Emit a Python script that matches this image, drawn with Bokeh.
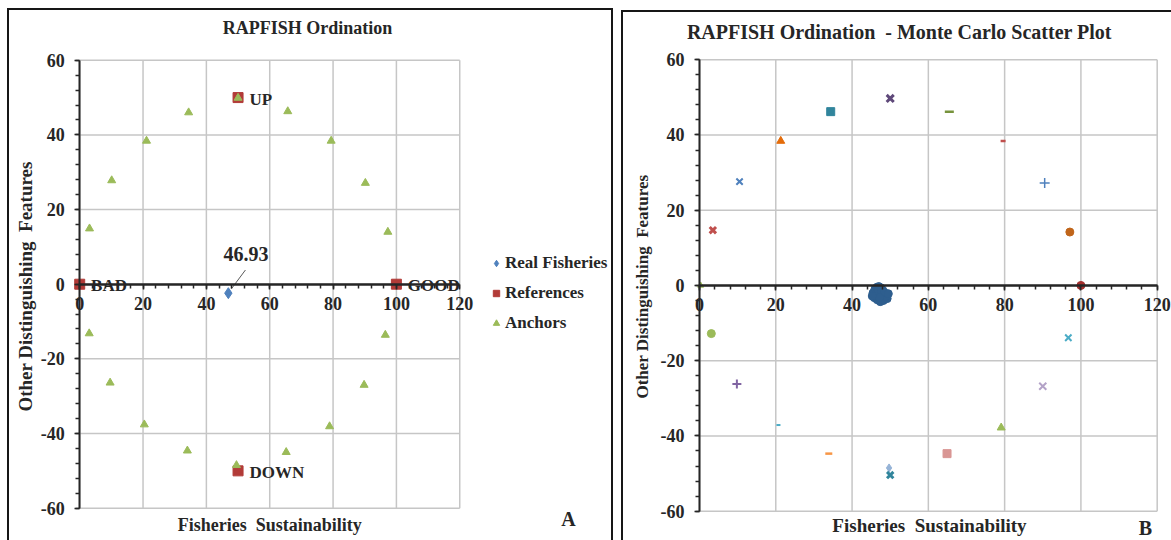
import math
from bokeh.plotting import figure
from bokeh.layouts import row
from bokeh.models import Legend, LegendItem, SingleIntervalTicker, ColumnDataSource
from bokeh.embed import file_html
from bokeh.resources import INLINE
from bokeh.core.properties import value

FONT = "Liberation Serif"
DARK = "#262626"
GRID = "#C6C6C6"
NB = "\u00a0"

# ---------------- data: panel A ----------------
real_x = [46.93]
real_y = [-2.4]
real_label = ["46.93"]

ref_x = [0, 100, 50, 50]
ref_y = [0, 0, 50, -50]
ref_names = ["BAD", "GOOD", "UP", "DOWN"]

anchor_x = [50.0, 34.4, 65.7, 21.1, 79.4, 10.1, 90.2, 3.1, 97.3,
            3.0, 96.5, 9.6, 89.8, 20.4, 78.9, 34.0, 65.2, 49.5]
anchor_y = [49.9, 46.0, 46.3, 38.4, 38.4, 27.8, 27.1, 14.9, 14.0,
            -13.2, -13.6, -26.4, -27.0, -37.6, -38.1, -44.6, -45.0, -48.5]

x_ticks = [0, 20, 40, 60, 80, 100, 120]
y_ticks = [-60, -40, -20, 0, 20, 40, 60]

# ---------------- data: panel B ----------------
mc_x = [50.0, 34.4, 65.5, 21.3, 79.6, 10.5, 90.5, 3.5, 97.1, 0.3, 100.0,
        3.1, 96.7, 9.8, 90.0, 20.7, 79.1, 33.9, 64.9, 49.7, 50.0]
mc_y = [49.7, 46.2, 46.2, 38.4, 38.4, 27.6, 27.2, 14.7, 14.2, 0.0, 0.0,
        -12.8, -13.9, -26.2, -26.8, -37.1, -37.8, -44.7, -44.7, -48.5, -50.4]

cloud_x = [45.5, 46.0, 46.5, 47.0, 47.5, 48.0, 48.5, 49.0, 45.8, 46.6, 47.4,
           48.2, 49.2, 46.2, 47.0, 47.8, 48.6, 46.8, 47.6, 48.4, 47.2, 45.3, 49.5]
cloud_y = [-2.0, -1.0, -0.5, -0.3, -0.6, -1.2, -2.0, -2.8, -3.2, -3.8, -4.3,
           -4.0, -3.5, -2.5, -2.0, -2.6, -3.0, -1.5, -1.2, -1.8, -3.2, -2.8, -2.2]

# styles of the Monte Carlo series (one per anchor / reference series)
mc_markers = ["x", "square", "dash", "triangle", "dash", "x", "cross", "x", "circle",
              "triangle", "circle", "circle", "x", "cross", "x", "dash", "triangle",
              "dash", "square", "diamond", "x"]
mc_colors = ["#5F497A", "#31859C", "#77933C", "#E46C0A", "#C0504D", "#4F81BD", "#4F81BD",
             "#C0504D", "#C0651A", "#9BBB59", "#A5302E", "#9BBB59", "#4BACC6", "#8064A2",
             "#B3A2C7", "#4BACC6", "#9BBB59", "#F79646", "#D99694", "#95B3D7", "#31859C"]
mc_sizes = [10, 8, 9, 8, 5, 9, 10, 9, 8, 6, 8, 8, 9, 9, 10, 4, 8, 7, 8, 8, 9]
mc_widths = [3, 1, 2.5, 1, 2.5, 2, 1.5, 3, 1, 1, 1, 1, 2, 2, 2, 2, 1, 2.5, 1, 1, 3]


def base_fig(width, height, xr, yr, shadow):
    p = figure(width=width, height=height, x_range=xr, y_range=yr,
               output_backend="svg", toolbar_location=None)
    p.min_border = 0
    p.min_border_left = 0
    p.min_border_right = 0
    p.min_border_top = 0
    p.min_border_bottom = 0
    p.background_fill_alpha = 0
    p.border_fill_alpha = 0
    p.outline_line_color = None
    p.xgrid.visible = False
    p.ygrid.visible = False
    # grid drawn over the 0..120 x -60..60 box only
    p.segment(x0=x_ticks, y0=[y_ticks[0]] * len(x_ticks), x1=x_ticks,
              y1=[y_ticks[-1]] * len(x_ticks), line_color=GRID, line_width=1.5)
    p.segment(x0=[x_ticks[0]] * len(y_ticks), y0=y_ticks, x1=[x_ticks[-1]] * len(y_ticks),
              y1=y_ticks, line_color=GRID, line_width=1.5)
    p.xaxis.ticker = SingleIntervalTicker(interval=20, num_minor_ticks=5)
    p.yaxis.ticker = SingleIntervalTicker(interval=20, num_minor_ticks=5)
    p.xaxis.fixed_location = 0
    p.yaxis.fixed_location = 0
    p.xaxis.bounds = (x_ticks[0], x_ticks[-1])
    p.yaxis.bounds = (y_ticks[0], y_ticks[-1])
    p.xaxis.major_label_overrides = {t: str(t) for t in x_ticks}
    p.yaxis.major_label_overrides = {t: str(t) for t in y_ticks}
    for ax in (p.xaxis, p.yaxis):
        ax.axis_line_color = DARK
        ax.major_tick_line_color = DARK
        ax.minor_tick_line_color = DARK
        ax.major_tick_line_width = 1.5
        ax.minor_tick_line_width = 1.5
        ax.major_tick_in = 0
        ax.minor_tick_in = 0
        ax.major_tick_out = 5
        ax.minor_tick_out = 4
        ax.major_label_text_font = FONT
        ax.major_label_text_font_size = "18px"
        ax.major_label_text_font_style = "bold"
        ax.major_label_text_color = DARK
    p.xaxis.axis_line_width = 2.5
    p.yaxis.axis_line_width = 2
    p.xaxis.major_label_standoff = 8
    p.yaxis.major_label_standoff = 10
    p.styles = {"box-shadow": shadow}
    return p


def add_text(p, x, y, text, size, align="center", angle=0.0):
    p.text(x=[x], y=[y], text=[text], angle=angle, text_align=align,
           text_baseline="middle", text_font=value(FONT), text_font_size=size,
           text_font_style="bold", text_color=DARK)


# ---------------- panel A ----------------
pA = base_fig(606, 532, (-22.80, 168.55), (-68.66, 73.86),
              "inset 2px 2px 0 #161616, inset -2px 0 0 #161616")

r_real = pA.scatter(real_x, real_y, marker="diamond", size=11, color="#4F81BD")
r_ref = pA.scatter(ref_x, ref_y, marker="square", size=10, color="#B23B38")
r_anc = pA.scatter(anchor_x, anchor_y, marker="triangle", size=8, color="#9BBB59")

pA.text(x=[rx + 3.6 for rx in ref_x], y=[ry - 0.4 for ry in ref_y], text=ref_names,
        text_align="left", text_baseline="middle", text_font=value(FONT),
        text_font_size="17px", text_font_style="bold", text_color=DARK)

pA.segment(x0=[real_x[0] + 5.4], y0=[real_y[0] + 6.2], x1=[real_x[0] + 1.0],
           y1=[real_y[0] + 1.2], line_color="#595959", line_width=1)
pA.text(x=[real_x[0] + 5.6], y=[real_y[0] + 10.6], text=real_label,
        text_align="center", text_baseline="middle", text_font=value(FONT),
        text_font_size="20px", text_font_style="bold", text_color=DARK)

legend = Legend(items=[LegendItem(label="Real Fisheries", renderers=[r_real]),
                       LegendItem(label="References", renderers=[r_ref]),
                       LegendItem(label="Anchors", renderers=[r_anc])],
                location=(481, 207), spacing=10, padding=0, margin=0,
                label_standoff=1, glyph_width=16, glyph_height=18, label_height=18,
                border_line_color=None, background_fill_alpha=0,
                label_text_font=FONT, label_text_font_size="17px",
                label_text_font_style="bold", label_text_color=DARK)
pA.add_layout(legend)

add_text(pA, 71.9, 68.6, "RAPFISH Ordination", "18px")
add_text(pA, 60.0, -64.6, "Fisheries" + NB + " Sustainability", "18px")
add_text(pA, 154.3, -62.8, "A", "20px")
add_text(pA, -17.1, -0.6, "Other Distinguishing" + NB + " Features", "19px",
         angle=math.pi / 2)

# ---------------- panel B ----------------
pB = base_fig(550, 530, (-20.45, 123.75), (-67.79, 73.08),
              "inset 2px 2px 0 #161616")
pB.margin = (2, 0, 0, 0)

pB.scatter(cloud_x, cloud_y, marker="circle", size=8, color="#2E5E8E")
src = ColumnDataSource(dict(x=mc_x, y=mc_y, m=mc_markers, c=mc_colors,
                            s=mc_sizes, w=mc_widths))
pB.scatter(x="x", y="y", marker="m", size="s", fill_color="c", line_color="c",
           line_width="w", source=src)

add_text(pB, 52.4, 67.3, "RAPFISH Ordination" + NB + " - Monte Carlo Scatter Plot", "20px")
add_text(pB, 60.3, -63.8, "Fisheries" + NB + " Sustainability", "19px")
add_text(pB, 116.9, -64.6, "B", "20px")
add_text(pB, -15.05, -0.3, "Other Distinguishing" + NB + " Features", "17px",
         angle=math.pi / 2)

layout = row(pA, pB, spacing=8)
layout.margin = (8, 0, 0, 7)
open("out.html", "w").write(file_html(layout, INLINE))
